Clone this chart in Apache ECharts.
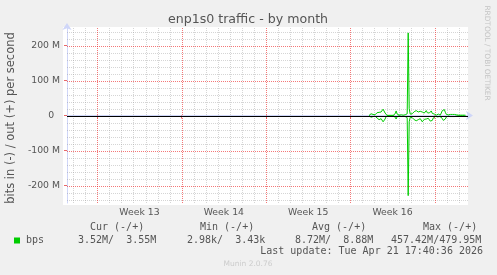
<!DOCTYPE html>
<html><head><meta charset="utf-8">
<script src="https://cdn.jsdelivr.net/npm/echarts@6/dist/echarts.min.js"></script>
<style>html,body{margin:0;padding:0;background:#F0F0F0;}#c{width:497px;height:275px;}</style>
</head><body><div id="c"></div>
<script>
// ---- data (Mbit/s), one point every 2 hours, x in days from start of Week 13 ----
const startDay = 22.55;
const stepDay = 1 / 12;
const outMbps = [
  0,4,5,5,3,0,2,5,8,10,
  9,7,10,15,18,14,7,2,0,0.5,
  0.5,0.5,0.5,0.5,0.5,1,5,13,4,1,
  1,2,2,1,1,2,2,2,5,236,
  20,4,3,5,7,11,8,14,19,10,
  9,12,17,10,5,7,10,14,8,5,
  7,12,13,6,8,4,2,1,2,4,
  3,1,6,14,19,17,9,3,1,2,
  3,3,3,3,3,3,3,2,1,1,
  1,1,1,1,1,1,1
];
const inMbps = [
  0,4,5,5,3,0,2,4,7,10,
  12,10,9,13,18,17,10,3,0,0.5,
  0.5,0.5,0.5,0.5,0.5,1,4,10,3,1,
  1,2,3,3,2,2,3,4,6,229,
  18,5,4,6,9,12,8,15,20,12,
  7,9,14,18,19,11,6,10,13,8,
  10,16,20,14,7,3,2,2,4,5,
  3,2,5,10,14,15,10,4,1,2,
  3,3,3,3,3,3,3,2,1,1,
  1,1,1,1,1,1,1
];
const weekLabels = ['Week 13','Week 14','Week 15','Week 16'];
const weekCenters = [3.5, 10.5, 17.5, 24.5];
const weekStarts = [0, 7, 14, 21, 28];
const dayLines = [-2,-1,1,2,3,4,5,6,8,9,10,11,12,13,15,16,17,18,19,20,22,23,24,25,26,27,29,30];
const yMajor = [-200, -100, 100, 200];
const yMinor = [-240,-220,-180,-160,-140,-120,-80,-60,-40,-20,20,40,60,80,120,140,160,180,220,240];
const yLabelValues = [-200, -100, 0, 100, 200];
const legendHeaders = ['Cur (-/+)', 'Min (-/+)', 'Avg (-/+)', 'Max (-/+)'];
const legendValues = ['3.52M/  3.55M', '2.98k/  3.43k', '8.72M/  8.88M', '457.42M/479.95M'];
const seriesName = 'bps';
const lastUpdate = 'Last update: Tue Apr 21 17:40:36 2026';

const xMin = -2.515, xMax = 30.763;
const outData = outMbps.map((v, i) => [startDay + i * stepDay, v]);
const inData = inMbps.map((v, i) => [startDay + i * stepDay, -v]);

// grid line list: [orientation (0 = vertical, 1 = horizontal), value, kind (0 minor, 1 major, 2 zero)]
const gridList = []
  .concat(dayLines.map(d => [0, d, 0]))
  .concat(yMinor.map(v => [1, v, 0]))
  .concat(weekStarts.map(d => [0, d, 1]))
  .concat(yMajor.map(v => [1, v, 1]));
const zeroList = [[1, 0, 2]];
const kindStyle = [
  {stroke: 'rgba(150,150,150,0.4)', lineWidth: 1, lineDash: [1, 1]},
  {stroke: 'rgba(235,30,30,0.6)', lineWidth: 1, lineDash: [1, 1]},
  {stroke: '#000000', lineWidth: 1}
];
function renderGrid(list) {
  return function (params, api) {
    const g = list[params.dataIndex];
    const cs = params.coordSys;
    const s = kindStyle[g[2]];
    let shape;
    if (g[0] === 0) {
      const x = Math.round(api.coord([g[1], 0])[0]) + 0.5;
      shape = {x1: x, y1: cs.y, x2: x, y2: cs.y + cs.height};
    } else {
      const y = Math.round(api.coord([0, g[1]])[1]) + 0.5;
      shape = {x1: cs.x, y1: y, x2: cs.x + cs.width, y2: y};
    }
    return {type: 'line', shape: shape, style: {stroke: s.stroke, lineWidth: s.lineWidth, lineDash: s.lineDash || null}};
  };
}

const mono = 'DejaVu Sans Mono';
const txt = (text, x, y, o) => Object.assign({
  type: 'text', x: x, y: y, silent: true,
  style: Object.assign({text: text, fill: '#555', fontFamily: mono, fontSize: 10,
    align: 'left', textAlign: 'left', verticalAlign: 'middle', textVerticalAlign: 'middle'}, (o && o.style) || {})
}, o ? {rotation: o.rotation || 0, z: o.z || 10} : {z: 10});

const headerX = [90, 200, 312, 423];
const valueX = [78, 187, 295, 391];
const graphics = [
  {type: 'rect', shape: {x: 63, y: 27, width: 405, height: 178}, style: {fill: '#ffffff'}, z: -10, silent: true},
  txt('enp1s0 traffic - by month', 248, 20, {style: {fontFamily: 'DejaVu Sans', fontSize: 12.6, align: 'center', textAlign: 'center'}}),
  txt('bits in (-) / out (+) per second', 11.5, 118, {rotation: Math.PI / 2, style: {fontFamily: 'DejaVu Sans', fontSize: 11.5, align: 'center', textAlign: 'center'}}),
  txt('RRDTOOL / TOBI OETIKER', 486.5, 53, {rotation: -Math.PI / 2, style: {fontFamily: 'DejaVu Sans', fontSize: 7.4, fill: '#c4c4c4', align: 'center', textAlign: 'center'}}),
  {type: 'rect', shape: {x: 14, y: 237.5, width: 6, height: 6}, style: {fill: '#00cc00'}, z: 10, silent: true},
  txt(seriesName, 26, 240),
  txt(lastUpdate, 483, 251.5, {style: {align: 'right', textAlign: 'right'}}),
  txt('Munin 2.0.76', 248, 264.5, {style: {fontFamily: 'DejaVu Sans', fontSize: 7.5, fill: '#cccccc', align: 'center', textAlign: 'center'}})
];
legendHeaders.forEach((h, i) => graphics.push(txt(h, headerX[i], 227.5)));
legendValues.forEach((v, i) => graphics.push(txt(v, valueX[i], 240)));

const axisColor = '#CFD6F8';
const chart = echarts.init(document.getElementById('c'), null, {renderer: 'canvas'});
chart.setOption({
  backgroundColor: '#F0F0F0',
  animation: false,
  grid: {left: 67, right: 29, top: 28, bottom: 72},
  graphic: graphics,
  xAxis: {
    type: 'value', min: xMin, max: xMax,
    axisLine: {lineStyle: {color: axisColor, width: 1}, symbol: ['none', 'arrow'], symbolSize: [7, 7], symbolOffset: [0, 5]},
    axisTick: {show: true, customValues: weekStarts, length: 3, lineStyle: {color: 'rgba(225,40,40,0.7)'}},
    axisLabel: {customValues: weekCenters, formatter: v => weekLabels[weekCenters.indexOf(v)] || '',
      fontFamily: 'DejaVu Sans', fontSize: 9.3, color: '#555', margin: 5},
    splitLine: {show: false}
  },
  yAxis: {
    type: 'value', min: -250, max: 250,
    axisLine: {show: true, onZero: false, lineStyle: {color: axisColor, width: 1}, symbol: ['none', 'arrow'], symbolSize: [7, 7], symbolOffset: [0, 5]},
    axisTick: {show: true, customValues: yLabelValues, length: 3, lineStyle: {color: 'rgba(225,40,40,0.7)'}},
    axisLabel: {customValues: yLabelValues, formatter: v => v === 0 ? '0  ' : (v + ' M'),
      fontFamily: 'DejaVu Sans', fontSize: 9.3, color: '#555', margin: 7},
    splitLine: {show: false}
  },
  series: [
    {
      name: 'grid', type: 'custom', silent: true, z: 1, clip: false,
      data: gridList.map(g => [0, 0]), renderItem: renderGrid(gridList)
    },
    {
      name: 'out', type: 'line', data: outData, showSymbol: false, z: 3,
      lineStyle: {color: '#00cc00', width: 1}, itemStyle: {color: '#00cc00'}
    },
    {
      name: 'in', type: 'line', data: inData, showSymbol: false, z: 3,
      lineStyle: {color: '#00cc00', width: 1}, itemStyle: {color: '#00cc00'}
    },
    {
      name: 'zero', type: 'custom', silent: true, z: 6, clip: false,
      data: zeroList.map(g => [0, 0]), renderItem: renderGrid(zeroList)
    }
  ]
});
</script></body></html>
